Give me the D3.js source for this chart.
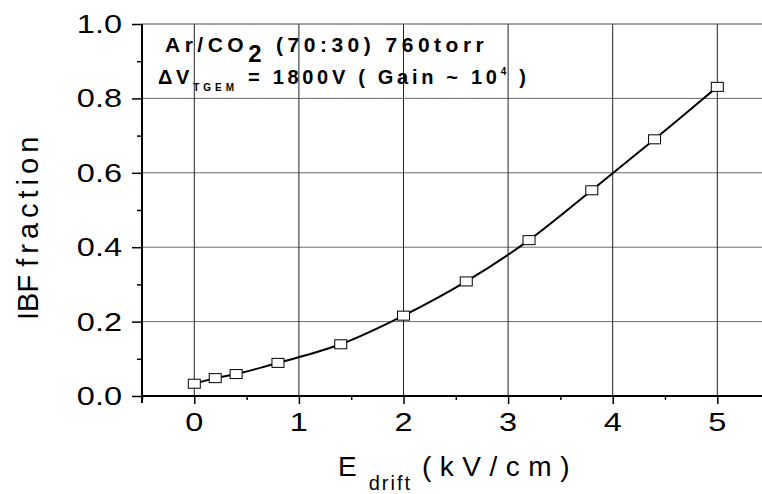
<!DOCTYPE html>
<html>
<head>
<meta charset="utf-8">
<script src="https://cdn.jsdelivr.net/npm/d3@7"></script>
<style>
  body { margin: 0; background: #fff; }
  svg { display: block; font-family: "Liberation Sans", Arial, sans-serif; }
</style>
</head>
<body>
<div id="chart"></div>
<script>
// data
const eDrift = [0, 0.2, 0.4, 0.8, 1.4, 2.0, 2.6, 3.2, 3.8, 4.4, 5.0]
const ibfFraction = [0.033, 0.048, 0.059, 0.089, 0.139, 0.216, 0.308, 0.419, 0.553, 0.690, 0.831]
const xTicks = [0, 1, 2, 3, 4, 5]
const xMinor = [-0.5, 0.5, 1.5, 2.5, 3.5, 4.5]
const yTicks = [0, 0.2, 0.4, 0.6, 0.8, 1.0]
const yMinor = [0.1, 0.3, 0.5, 0.7, 0.9]

const width = 762
const height = 494
const plotLeft = 142, plotTop = 24, plotBottom = 396
const plotRight = 142 + 6 * 104.6 // x = 5.5, runs past the window edge

const svg = d3.select("#chart").append("svg")
  .attr("width", width)
  .attr("height", height)

const x = d3.scaleLinear().domain([-0.5, 5.5]).range([plotLeft, plotRight])
const y = d3.scaleLinear().domain([0, 1]).range([plotBottom, plotTop])

// grid
svg.append("g")
  .selectAll("line")
  .data(yTicks.filter((d) => d > 0 && d < 1))
  .join("line")
  .attr("x1", plotLeft).attr("x2", plotRight)
  .attr("y1", (d) => y(d)).attr("y2", (d) => y(d))
  .attr("stroke", "#6a6a6a").attr("stroke-width", 1)

svg.append("g")
  .selectAll("line")
  .data(xTicks)
  .join("line")
  .attr("x1", (d) => x(d)).attr("x2", (d) => x(d))
  .attr("y1", plotTop).attr("y2", plotBottom)
  .attr("stroke", "#222").attr("stroke-width", 1)

// top frame
svg.append("line")
  .attr("x1", plotLeft).attr("x2", plotRight)
  .attr("y1", plotTop).attr("y2", plotTop)
  .attr("stroke", "#444").attr("stroke-width", 1.2)

// x axis
const xAxis = svg.append("g").attr("transform", `translate(0,${plotBottom})`)
xAxis.call(d3.axisBottom(x).tickValues(xTicks).tickSize(8).tickFormat(""))
xAxis.append("g").call(d3.axisBottom(x).tickValues(xMinor).tickSize(4).tickFormat(""))
xAxis.selectAll(".domain").attr("stroke-width", 2).attr("d", `M${plotLeft},0H${plotRight}`)
xAxis.selectAll(".tick line").attr("stroke-width", 1.5)

svg.append("g")
  .selectAll("text")
  .data(xTicks)
  .join("text")
  .attr("transform", (d) => `translate(${x(d)},${plotBottom + 35}) scale(1.25,1)`)
  .attr("text-anchor", "middle")
  .attr("font-size", 26)
  .text((d) => d)

// y axis
const yAxis = svg.append("g").attr("transform", `translate(${plotLeft},0)`)
yAxis.call(d3.axisLeft(y).tickValues(yTicks).tickSize(10).tickFormat(""))
yAxis.append("g").call(d3.axisLeft(y).tickValues(yMinor).tickSize(5).tickFormat(""))
yAxis.selectAll(".domain").attr("stroke-width", 2).attr("d", `M0,${plotTop}V${plotBottom + 7}`)
yAxis.selectAll(".tick line").attr("stroke-width", 1.5)

svg.append("g")
  .selectAll("text")
  .data(yTicks)
  .join("text")
  .attr("transform", (d) => `translate(${plotLeft - 20},${y(d) + 9}) scale(1.25,1)`)
  .attr("text-anchor", "end")
  .attr("font-size", 26)
  .text((d) => d.toFixed(1))

// curve + markers
const line = d3.line()
  .x((d, i) => x(eDrift[i]))
  .y((d) => y(d))
  .curve(d3.curveCatmullRom)

svg.append("path")
  .datum(ibfFraction)
  .attr("d", line)
  .attr("fill", "none")
  .attr("stroke", "#000")
  .attr("stroke-width", 2)

svg.append("g")
  .selectAll("rect")
  .data(ibfFraction)
  .join("rect")
  .attr("x", (d, i) => x(eDrift[i]) - 6)
  .attr("y", (d) => y(d) - 4.5)
  .attr("width", 12)
  .attr("height", 9)
  .attr("fill", "#fff")
  .attr("stroke", "#000")
  .attr("stroke-width", 1)

// axis titles
const xt = svg.append("text")
  .attr("x", 338)
  .attr("y", 476)
  .attr("font-size", 28)
xt.append("tspan").text("E")
xt.append("tspan").attr("dx", 12).attr("dy", 14).attr("font-size", 20)
  .attr("letter-spacing", 2).text("drift")
xt.append("tspan").attr("dx", 10).attr("dy", -14).attr("letter-spacing", 8.5).text("(kV/cm)")

const yt = svg.append("text")
  .attr("transform", "translate(38,320) rotate(-90)")
  .attr("font-size", 29)
yt.append("tspan").text("IBF ")
yt.append("tspan").attr("letter-spacing", 5).text("fraction")

// annotation
const a1 = svg.append("text")
  .attr("x", 165).attr("y", 52)
  .attr("font-size", 21).attr("font-weight", "bold")
  .attr("letter-spacing", 4.5)
a1.append("tspan").text("Ar/CO")
a1.append("tspan").attr("dy", 10).attr("font-size", 24).text("2")
a1.append("tspan").attr("dy", -10).attr("dx", 10).text("(70:30) 760torr")

const a2 = svg.append("text")
  .attr("x", 158).attr("y", 84)
  .attr("font-size", 20).attr("font-weight", "bold")
  .attr("letter-spacing", 3.7)
a2.append("tspan").text("ΔV")
a2.append("tspan").attr("dy", 7).attr("font-size", 10).attr("letter-spacing", 4).text("TGEM")
a2.append("tspan").attr("dy", -7).attr("dx", 10).text("= 1800V ( Gain ~ 10")
a2.append("tspan").attr("dy", -9).attr("font-size", 10).text("4")
a2.append("tspan").attr("dy", 9).text(" )")
</script>
</body>
</html>
